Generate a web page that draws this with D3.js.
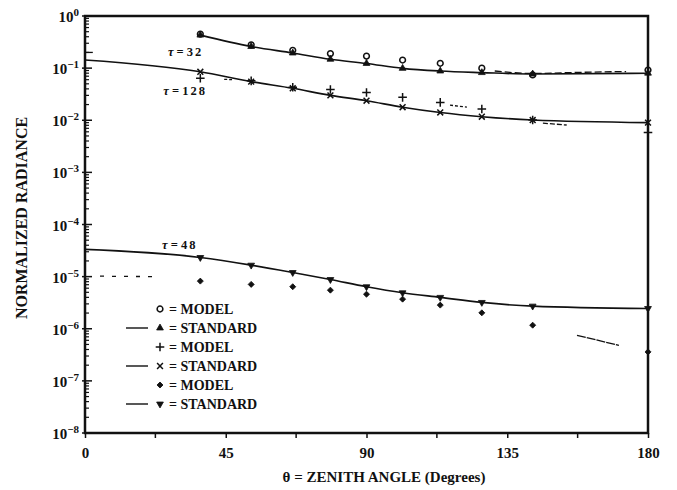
<!DOCTYPE html>
<html>
<head>
<meta charset="utf-8">
<script src="https://cdn.jsdelivr.net/npm/d3@7"></script>
<style>
  body { margin: 0; background: #fff; }
  svg { display: block; }
  text { font-family: "Liberation Serif", "DejaVu Serif", serif; font-weight: bold; fill: #111; }
</style>
</head>
<body>
<div id="app"></div>
<script>
// zenith angles (cos = 1, .8, .6 ... -.8, -1)
const theta = [0, 36.87, 53.13, 66.42, 78.46, 90, 101.54, 113.58, 126.87, 143.13, 180];
const thetaOff = theta.slice(1);

// tau = 32 (from 36.87 deg)
const std32 = [0.43, 0.26, 0.195, 0.148, 0.123, 0.099, 0.088, 0.082, 0.077, 0.08];
const model32 = [0.45, 0.28, 0.22, 0.19, 0.17, 0.143, 0.124, 0.10, 0.074, 0.092];
// tau = 128 (std from 0 deg, model from 36.87 deg)
const std128 = [0.143, 0.085, 0.055, 0.041, 0.030, 0.0237, 0.0178, 0.0141, 0.0117, 0.0101, 0.0090];
const model128 = [0.064, 0.057, 0.043, 0.039, 0.034, 0.0275, 0.022, 0.0164, 0.0101, 0.0058];
// tau = 48 (std from 0 deg, model from 36.87 deg)
const std48 = [3.33e-5, 2.33e-5, 1.66e-5, 1.2e-5, 8.8e-6, 6.4e-6, 4.9e-6, 4.0e-6, 3.2e-6, 2.72e-6, 2.45e-6];
const model48 = [8.2e-6, 7.1e-6, 6.4e-6, 5.5e-6, 4.6e-6, 3.7e-6, 2.84e-6, 2.02e-6, 1.17e-6, 3.6e-7];

// broken (dashed) model pieces seen in the plot
const dash32 = [[131, 0.088], [143.13, 0.079], [158, 0.083], [173, 0.086]];
const dash128a = [[116.7, 0.0195], [122.1, 0.0178]];
const dash128b = [[146.4, 0.0088], [154, 0.0081]];
const dash128c = [[0, 0.2], [2.5, 0.2]];
const dash128d = [[44.5, 0.061], [47, 0.06]];
const dash48a = [[4.8, 1.02e-5], [21.7, 1.0e-5]];
const dash48b = [[157.3, 7.5e-7], [170.7, 4.8e-7]];

const xTicks = [0, 45, 90, 135, 180];
const xMinor = [22.5, 67.5, 112.5, 157.5];
const yDecades = [0, -1, -2, -3, -4, -5, -6, -7, -8];

const tauLabels = [
  { t: '32', th: 26.5, v: 0.17 },
  { t: '128', th: 25, v: 0.0305 },
  { t: '48', th: 24.6, v: 3.37e-5 }
];

const legendRows = [
  { sym: 'circle', label: 'MODEL', line: false },
  { sym: 'triangle', label: 'STANDARD', line: true },
  { sym: 'plus', label: 'MODEL', line: false },
  { sym: 'times', label: 'STANDARD', line: true },
  { sym: 'diamond', label: 'MODEL', line: false },
  { sym: 'tridown', label: 'STANDARD', line: true }
];

const width = 677, height = 490;
const svg = d3.select('#app').append('svg')
  .attr('width', width).attr('height', height);

const x = d3.scaleLinear().domain([0, 180]).range([85, 648]);
const y = d3.scaleLog().domain([1e-8, 1]).range([433, 16]);

// frame
svg.append('rect')
  .attr('x', x(0)).attr('y', y(1))
  .attr('width', x(180) - x(0)).attr('height', y(1e-8) - y(1))
  .attr('fill', 'none').attr('stroke', '#111').attr('stroke-width', 2.5);

// x axis
const xAxis = d3.axisBottom(x).tickValues(xTicks).tickSize(5).tickFormat(d3.format('d'));
const gx = svg.append('g').attr('transform', `translate(0,${y(1e-8)})`).call(xAxis);
gx.select('.domain').remove();
gx.selectAll('line').attr('stroke', '#111').attr('stroke-width', 1.5);
gx.selectAll('text').attr('font-size', 15).attr('dy', '1.1em').attr('font-family', 'Liberation Serif');
gx.selectAll('.minor').data(xMinor).enter().append('line')
  .attr('x1', d => x(d)).attr('x2', d => x(d))
  .attr('y1', 0).attr('y2', 5).attr('stroke', '#111').attr('stroke-width', 1.5);

// y axis ticks (log, inward)
const minor = [];
for (let e = -8; e < 0; e++) for (let m = 2; m < 10; m++) minor.push(m * Math.pow(10, e));
svg.append('g').selectAll('line').data(minor).enter().append('line')
  .attr('x1', x(0)).attr('x2', x(0) + 4)
  .attr('y1', d => y(d)).attr('y2', d => y(d))
  .attr('stroke', '#111').attr('stroke-width', 1.2);
svg.append('g').selectAll('line').data(yDecades).enter().append('line')
  .attr('x1', x(0) - 3).attr('x2', x(0) + 7)
  .attr('y1', d => y(Math.pow(10, d))).attr('y2', d => y(Math.pow(10, d)))
  .attr('stroke', '#111').attr('stroke-width', 1.5);

const yl = svg.append('g').selectAll('text').data(yDecades).enter().append('text')
  .attr('x', 79).attr('y', d => y(Math.pow(10, d)) + 6)
  .attr('text-anchor', 'end').attr('font-size', 15);
yl.append('tspan').text('10');
yl.append('tspan').attr('dy', -6).attr('font-size', 11)
  .text(d => d === 0 ? '0' : '\u2212' + (-d));

// axis titles
svg.append('text')
  .attr('transform', `translate(27,218) rotate(-90)`)
  .attr('text-anchor', 'middle').attr('font-size', 16)
  .text('NORMALIZED RADIANCE');
svg.append('text')
  .attr('x', 384).attr('y', 482).attr('text-anchor', 'middle').attr('font-size', 15)
  .text('\u03B8 = ZENITH ANGLE (Degrees)');

// curves
const line = d3.line().x(d => x(d[0])).y(d => y(d[1])).curve(d3.curveMonotoneX);
const plot = svg.append('g');
function drawLine(pts, dash, w) {
  plot.append('path').datum(pts)
    .attr('d', line).attr('fill', 'none').attr('stroke', '#111')
    .attr('stroke-width', w || 1.6)
    .attr('stroke-dasharray', dash || null);
}
drawLine(d3.zip(thetaOff, std32));
drawLine(d3.zip(theta, std128));
drawLine(d3.zip(theta, std48));
drawLine(dash32, '7,3', 1.3);
drawLine(dash128a, '3,2', 1.3);
drawLine(dash128b, '5,2', 1.3);
drawLine(dash128c, null, 1.3);
drawLine(dash128d, '3,2', 1.3);
drawLine(dash48a, '4,8', 1.3);
drawLine(dash48b, '9,1', 1.3);

// markers
function symPath(kind) {
  switch (kind) {
    case 'circle': return d3.symbol(d3.symbolCircle, 26)();
    case 'triangle': return d3.symbol(d3.symbolTriangle, 20)();
    case 'tridown': return d3.symbol(d3.symbolTriangle, 20)();
    case 'plus': return d3.symbol(d3.symbolPlus, 26)();
    case 'times': return d3.symbol(d3.symbolTimes, 24)();
    case 'diamond': return d3.symbol(d3.symbolSquare, 18)();
  }
}
function rot(kind) {
  return kind === 'tridown' ? ' rotate(180)' : kind === 'diamond' ? ' rotate(45)' : '';
}
function styleSym(sel, kind) {
  const stroked = kind === 'circle' || kind === 'plus' || kind === 'times';
  sel.attr('d', symPath(kind))
    .attr('fill', stroked ? 'none' : '#111')
    .attr('stroke', '#111')
    .attr('stroke-width', stroked ? 1.5 : 0.8);
}
function drawMarks(xs, vs, kind) {
  const sel = plot.append('g').selectAll('path').data(d3.zip(xs, vs)).enter().append('path')
    .attr('transform', d => `translate(${x(d[0])},${y(d[1])})` + rot(kind));
  styleSym(sel, kind);
}
drawMarks(thetaOff, model32, 'circle');
drawMarks(thetaOff, std32, 'triangle');
drawMarks(thetaOff, model128, 'plus');
drawMarks(thetaOff, std128.slice(1), 'times');
drawMarks(thetaOff, model48, 'diamond');
drawMarks(thetaOff, std48.slice(1), 'tridown');

// tau labels
const tl = svg.append('g').selectAll('text').data(tauLabels).enter().append('text')
  .attr('x', d => x(d.th)).attr('y', d => y(d.v))
  .attr('font-size', 12.5);
tl.append('tspan').attr('font-style', 'italic').text('\u03C4');
tl.append('tspan').text(' = ');
tl.append('tspan').attr('letter-spacing', 2).text(d => d.t);

// legend
const lg = svg.append('g').selectAll('g').data(legendRows).enter().append('g')
  .attr('transform', (d, i) => `translate(0,${309 + i * 19})`);
lg.filter(d => d.line).append('line')
  .attr('x1', 126).attr('x2', 148).attr('y1', 0).attr('y2', 0)
  .attr('stroke', '#111').attr('stroke-width', 1.4);
lg.append('path').each(function (d) {
  const s = d3.select(this).attr('transform', `translate(160,0)` + rot(d.sym));
  styleSym(s, d.sym);
});
lg.append('text').attr('x', 169).attr('y', 5).attr('font-size', 14).text(d => '= ' + d.label);
</script>
</body>
</html>
